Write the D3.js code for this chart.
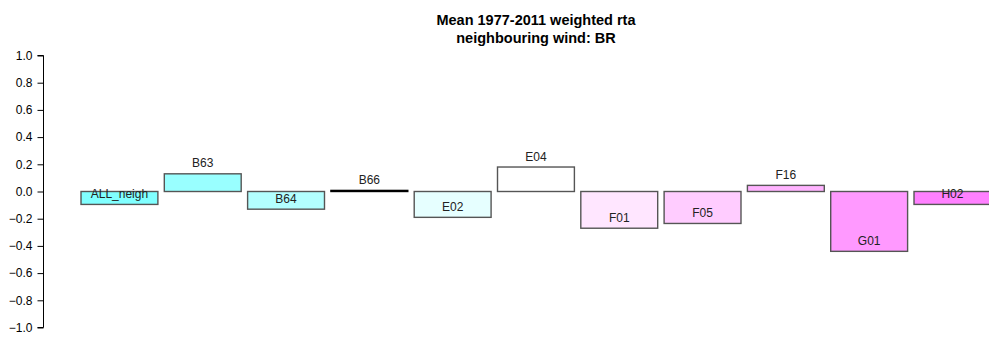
<!DOCTYPE html>
<html>
<head>
<meta charset="utf-8">
<script src="https://cdn.jsdelivr.net/npm/d3@7"></script>
<style>
  html, body { margin: 0; padding: 0; background: #fff; }
  svg { display: block; font-family: "Liberation Sans", Arial, sans-serif; }
</style>
</head>
<body>
<svg id="chart" width="989" height="338"></svg>
<script>
// Mean weighted RTA per region, neighbouring wind: BR
const categories = ["ALL_neigh", "B63", "B64", "B66", "E02", "E04", "F01", "F05", "F16", "G01", "H02"];
const values = [-0.095, 0.13, -0.13, 0.008, -0.19, 0.18, -0.27, -0.235, 0.045, -0.44, -0.095];
const fills = ["#80ffff", "#99ffff", "#b3ffff", "#ccffff", "#e6ffff", "#ffffff", "#ffe6ff", "#ffccff", "#ffb3ff", "#ff99ff", "#ff80ff"];
const yTicks = [-1, -0.8, -0.6, -0.4, -0.2, 0, 0.2, 0.4, 0.6, 0.8, 1];
const titleLines = ["Mean 1977-2011 weighted rta", "neighbouring wind: BR"];

const svg = d3.select("#chart");

const y = d3.scaleLinear().domain([-1, 1]).range([327.5, 55.5]);
const x = d3.scaleBand()
  .domain(categories)
  .range([77.8, 77.8 + 916.3])
  .paddingInner(0.077)
  .paddingOuter(0.0385);

// y axis
const yAxis = svg.append("g")
  .attr("transform", "translate(43.5,0)")
  .call(d3.axisLeft(y).tickValues(yTicks).tickFormat(d3.format(".1f")).tickSize(6).tickPadding(5));
yAxis.select(".domain").attr("stroke", "#000").attr("d", `M-6,${y(-1)}H0V${y(1)}H-6`);
yAxis.selectAll(".tick line").attr("stroke", "#000");
yAxis.selectAll(".tick text").attr("fill", "#000").style("font-size", "12px");

// bars
svg.append("g").selectAll("rect")
  .data(categories)
  .join("rect")
  .attr("x", d => x(d))
  .attr("width", x.bandwidth())
  .attr("y", (d, i) => y(Math.max(0, values[i])))
  .attr("height", (d, i) => Math.abs(y(values[i]) - y(0)))
  .attr("fill", (d, i) => fills[i])
  .attr("stroke", (d, i) => Math.abs(values[i]) < 0.02 ? "#000" : "#555")
  .attr("stroke-width", 1.4);

// bar labels, placed just above the value end of each bar
svg.append("g").selectAll("text")
  .data(categories)
  .join("text")
  .attr("x", d => x(d) + x.bandwidth() / 2)
  .attr("y", (d, i) => y(values[i]) - 6.5)
  .attr("text-anchor", "middle")
  .attr("fill", "#222")
  .style("font-size", "12px")
  .text(d => d);

// title
svg.append("g").selectAll("text")
  .data(titleLines)
  .join("text")
  .attr("x", 536)
  .attr("y", (d, i) => 24.5 + i * 18)
  .attr("text-anchor", "middle")
  .attr("font-weight", "bold")
  .style("font-size", "14.5px")
  .attr("fill", "#000")
  .text(d => d);
</script>
</body>
</html>
